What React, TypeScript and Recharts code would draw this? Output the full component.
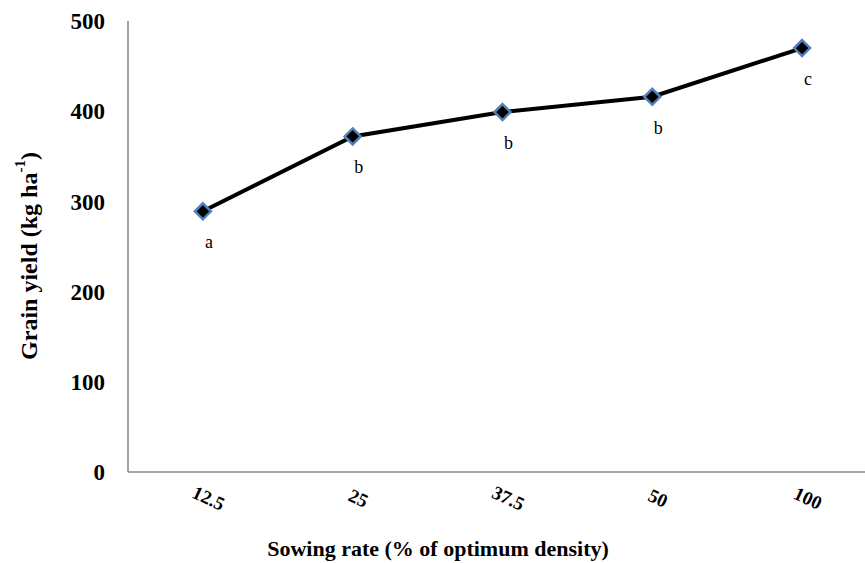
import { LineChart, Line, XAxis, YAxis, LabelList } from "recharts";

const categories = ["12.5", "25", "37.5", "50", "100"];
const grainYield = [289, 372, 399, 416, 470];
const letters = ["a", "b", "b", "b", "c"];
const yTicks = [0, 100, 200, 300, 400, 500];

const data = categories.map((c, i) => ({
  idx: i,
  category: c,
  yield: grainYield[i],
  letter: letters[i],
}));

const FONT = '"Liberation Serif", "Times New Roman", serif';

const Diamond = (props: any) => {
  const { cx, cy } = props;
  if (cx == null || cy == null) return null;
  const r = 8;
  return (
    <path
      d={`M${cx},${cy - r} L${cx + r},${cy} L${cx},${cy + r} L${cx - r},${cy} Z`}
      fill="#000"
      stroke="#4f81bd"
      strokeWidth={2.5}
    />
  );
};

const XTick = (props: any) => {
  const { x, y, payload } = props;
  return (
    <g transform={`translate(${x + 3},${y + 24})`}>
      <text
        textAnchor="middle"
        transform="rotate(25)"
        fontFamily={FONT}
        fontWeight="bold"
        fontSize={19}
        fill="#000"
      >
        {categories[payload.value]}
      </text>
    </g>
  );
};

const LetterLabel = (props: any) => {
  const { x, y, value } = props;
  return (
    <text x={x + 6} y={y + 37} textAnchor="middle" fontFamily={FONT} fontSize={18} fill="#000">
      {value}
    </text>
  );
};

const YTitle = () => (
  <text
    x={29}
    y={256}
    transform="rotate(-90, 29, 256)"
    textAnchor="middle"
    dominantBaseline="central"
    fontFamily={FONT}
    fontWeight="bold"
    fontSize={24}
    fill="#000"
  >
    Grain yield (kg ha
    <tspan dy={-9} fontSize={15}>-1</tspan>
    <tspan dy={9}>)</tspan>
  </text>
);

const XTitle = () => (
  <text
    x={438}
    y={556}
    textAnchor="middle"
    fontFamily={FONT}
    fontWeight="bold"
    fontSize={22}
    fill="#000"
  >
    Sowing rate (% of optimum density)
  </text>
);

export default function App() {
  return (
    <div style={{ position: "absolute", left: 0, top: 0, background: "#fff" }}>
      <LineChart
        width={865}
        height={563}
        data={data}
        margin={{ top: 21, right: 0, bottom: 0, left: 0 }}
      >
        <XAxis
          dataKey="idx"
          type="number"
          domain={[-0.5, 4.42]}
          ticks={[0, 1, 2, 3, 4]}
          tick={<XTick />}
          tickLine={false}
          axisLine={{ stroke: "#868686", strokeWidth: 1.5 }}
          allowDataOverflow
          height={91}
          label={{ content: () => <XTitle /> }}
        />
        <YAxis
          width={128}
          domain={[0, 500]}
          ticks={yTicks}
          tickLine={false}
          axisLine={{ stroke: "#868686", strokeWidth: 1.5 }}
          tickMargin={17}
          tick={{ fontFamily: FONT, fontWeight: "bold", fontSize: 23, fill: "#000" }}
          label={{ content: () => <YTitle /> }}
        />
        <Line
          dataKey="yield"
          stroke="#000"
          strokeWidth={4}
          dot={<Diamond />}
          activeDot={false}
          isAnimationActive={false}
        >
          <LabelList dataKey="letter" content={<LetterLabel />} />
        </Line>
      </LineChart>
    </div>
  );
}
